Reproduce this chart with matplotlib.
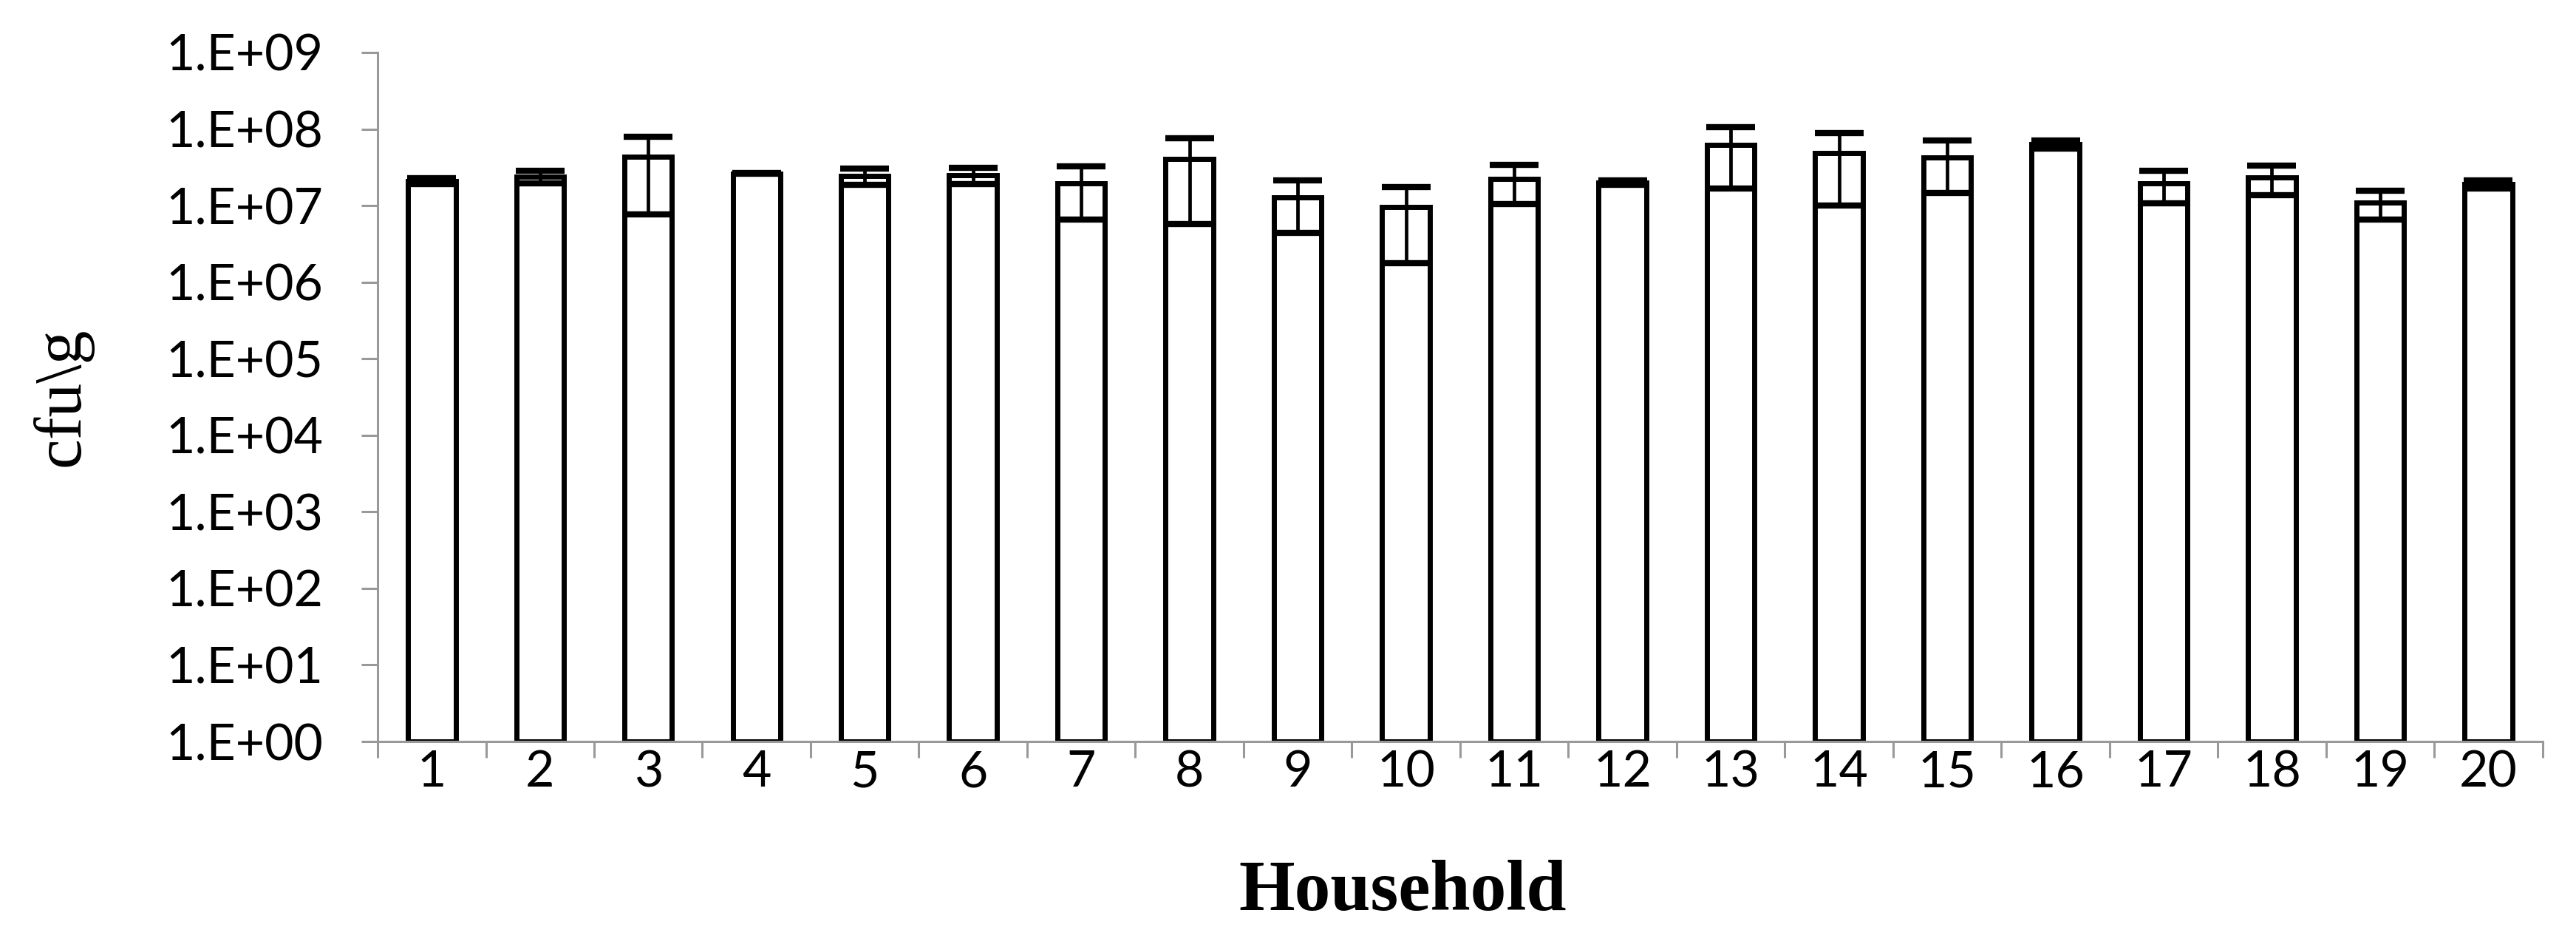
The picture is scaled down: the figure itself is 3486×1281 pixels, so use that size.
"""
Bacterial counts per household (cfu/g), log scale bar chart with SD error bars.
"""

import numpy as np
import matplotlib
matplotlib.use("Agg")
import matplotlib.pyplot as plt
from matplotlib.ticker import FixedLocator, FixedFormatter


# ---------------------------------
# Data
# ---------------------------------
households = [str(i) for i in range(1, 21)]
mean_cfu = [2.09e7, 2.40e7, 4.37e7, 2.63e7, 2.45e7, 2.51e7, 1.95e7, 4.07e7, 1.29e7, 9.55e6,
            2.24e7, 2.00e7, 6.17e7, 4.90e7, 4.27e7, 6.31e7, 1.95e7, 2.34e7, 1.10e7, 1.91e7]
sd_cfu = [2.0e6, 4.5e6, 3.6e7, 5.0e5, 5.7e6, 5.8e6, 1.29e7, 3.5e7, 8.5e6, 7.8e6,
          1.2e7, 1.5e6, 4.5e7, 3.9e7, 2.8e7, 7.7e6, 8.7e6, 9.7e6, 4.5e6, 2.3e6]
y_ticks = [1e0, 1e1, 1e2, 1e3, 1e4, 1e5, 1e6, 1e7, 1e8, 1e9]
y_tick_labels = ["1.E+00", "1.E+01", "1.E+02", "1.E+03", "1.E+04",
                 "1.E+05", "1.E+06", "1.E+07", "1.E+08", "1.E+09"]

AXIS_GREY = "#999999"

# ---------------------------------
# Figure
# ---------------------------------
fig = plt.figure(figsize=(34.86, 12.81), dpi=100)
ax = fig.add_axes([0.1466, 0.217, 0.987 - 0.1466, 0.9446 - 0.217])

x = np.arange(1, len(households) + 1)
means = np.array(mean_cfu)
sds = np.array(sd_cfu)
ax.bar(x, means - 1, bottom=1, width=0.44, color="white",
       edgecolor="black", linewidth=5, zorder=2)
# whiskers (drawn explicitly so they stay above the white fill) + caps
ax.vlines(x, means - sds, means + sds, colors="black", linewidth=3.4, zorder=4)
ax.errorbar(x, means, yerr=sds, fmt="none", ecolor="black",
            elinewidth=0, capsize=24, capthick=6, zorder=4)

ax.set_yscale("log")
ax.set_ylim(1, 1e9)
ax.set_xlim(0.5, len(households) + 0.5)

ax.yaxis.set_major_locator(FixedLocator(y_ticks))
ax.yaxis.set_major_formatter(FixedFormatter(y_tick_labels))
ax.yaxis.set_minor_locator(FixedLocator([]))

# x ticks: labels at centres, tick marks at category boundaries
ax.set_xticks(x)
ax.set_xticklabels(households)
ax.set_xticks(np.arange(0.5, len(households) + 1), minor=True)
ax.tick_params(axis="x", which="major", length=0, pad=8)
ax.tick_params(axis="x", which="minor", length=16, width=2.2, color=AXIS_GREY)
ax.tick_params(axis="y", which="major", length=16, width=2.2, color=AXIS_GREY, pad=37)

for lbl in ax.get_xticklabels() + ax.get_yticklabels():
    lbl.set_fontfamily("Lato")
    lbl.set_fontsize(49)

for side in ("top", "right"):
    ax.spines[side].set_visible(False)
for side in ("left", "bottom"):
    ax.spines[side].set_color(AXIS_GREY)
    ax.spines[side].set_linewidth(2.2)
ax.spines["bottom"].set_zorder(5)

ax.set_xlabel("Household", fontfamily="Liberation Serif", fontweight="bold",
              fontsize=70, va="center")
ax.xaxis.set_label_coords(0.4735, -0.219)
ax.set_ylabel("cfu\\g", fontfamily="Liberation Serif", fontsize=66, labelpad=71)

fig.savefig("out.png", dpi=100, facecolor="white")
plt.close(fig)
